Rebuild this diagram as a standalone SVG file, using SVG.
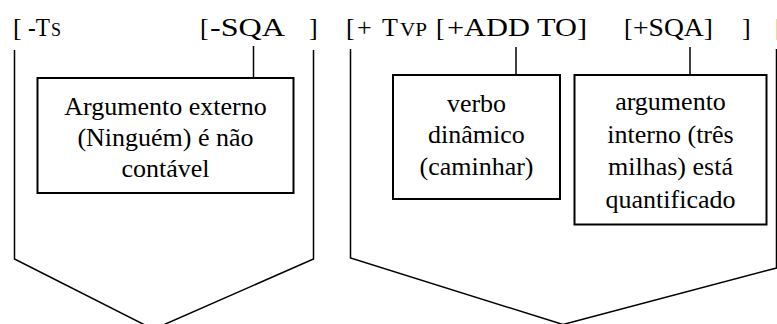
<svg xmlns="http://www.w3.org/2000/svg" width="777" height="324" viewBox="0 0 777 324">
  <style>
    text { font-family: 'Liberation Serif', 'DejaVu Serif', serif; fill: #000; }
    .feat { font-size: 26px; }
    .sub { font-size: 18px; }
    .lbl { font-size: 26px; text-anchor: middle; }
    .box { fill: #fff; stroke: #000; stroke-width: 2; }
    .ln { fill: none; stroke: #000; stroke-width: 1.5; stroke-linejoin: miter; }
  </style>

  <!-- feature bundles along the top -->
  <g id="features">
    <text class="feat" x="13" y="36">[</text>
    <text class="feat" x="28" y="36" textLength="22" lengthAdjust="spacingAndGlyphs">-T</text>
    <text class="sub" x="51" y="36">S</text>
    <text class="feat" x="200" y="36">[</text>
    <text class="feat" x="210" y="36" textLength="75" lengthAdjust="spacingAndGlyphs">-SQA</text>
    <text class="feat" x="309" y="36">]</text>
    <text class="feat" x="346" y="36">[</text>
    <text class="feat" x="357" y="36">+</text>
    <text class="feat" x="382" y="36">T</text>
    <text class="sub" x="400" y="36" textLength="27" lengthAdjust="spacingAndGlyphs">VP</text>
    <text class="feat" x="436" y="36">[</text>
    <text class="feat" x="447" y="36" textLength="140" lengthAdjust="spacingAndGlyphs">+ADD TO]</text>
    <text class="feat" x="624" y="36">[</text>
    <text class="feat" x="633" y="36" textLength="80" lengthAdjust="spacingAndGlyphs">+SQA]</text>
    <text class="feat" x="742" y="36">]</text>
    <text class="feat" x="775" y="36">[</text>
  </g>

  <!-- brackets and ticks -->
  <g id="connectors">
    <polyline class="ln" points="14.5,50 14.5,259 153.4,329.3 313.5,259 313.5,50"/>
    <polyline class="ln" points="350.5,49 350.5,258 563,324.5 776.5,268 776.5,49"/>
    <line class="ln" x1="253.5" y1="46" x2="253.5" y2="78"/>
    <line class="ln" x1="516" y1="47" x2="516" y2="75"/>
    <line class="ln" x1="690" y1="47" x2="690" y2="75"/>
  </g>

  <g id="externo">
    <rect class="box" x="37.5" y="78" width="256" height="115"/>
    <text class="lbl" x="165.5" y="114.5">Argumento externo</text>
    <text class="lbl" x="165.5" y="145.5">(Ninguém) é não</text>
    <text class="lbl" x="165.5" y="176.5">contável</text>
  </g>

  <g id="verbo">
    <rect class="box" x="393" y="75" width="167" height="124"/>
    <text class="lbl" x="476.5" y="111.5">verbo</text>
    <text class="lbl" x="476.5" y="143">dinâmico</text>
    <text class="lbl" x="476.5" y="175">(caminhar)</text>
  </g>

  <g id="interno">
    <rect class="box" x="574.5" y="75" width="192" height="149.5"/>
    <text class="lbl" x="670.5" y="110">argumento</text>
    <text class="lbl" x="670.5" y="142.5">interno (três</text>
    <text class="lbl" x="670.5" y="175">milhas) está</text>
    <text class="lbl" x="670.5" y="208">quantificado</text>
  </g>
</svg>
